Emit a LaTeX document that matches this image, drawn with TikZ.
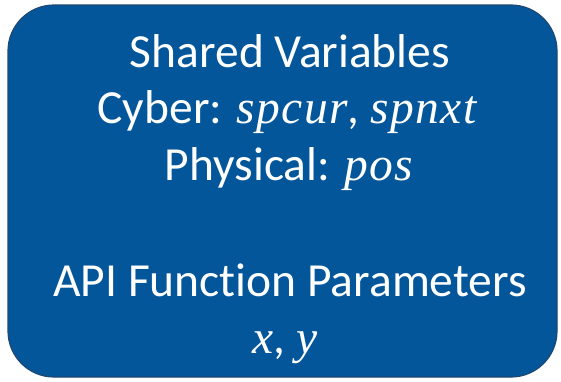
\documentclass[tikz,border=0pt]{standalone}
\usepackage{fontspec}
\setmainfont{Carlito}[Ligatures=NoCommon]
\newfontfamily\varfont{Liberation Serif}[LetterSpace=3]
\definecolor{boxfill}{HTML}{04569A}
\definecolor{boxline}{HTML}{1E4874}
\newcommand{\mv}[1]{{\varfont\itshape #1}}
\begin{document}
\begin{tikzpicture}[x=1pt,y=-1pt,
  panel/.style={fill=boxfill,draw=boxline,line width=1.2pt,rounded corners=46pt},
  label/.style={text=white,font=\fontsize{47.5}{57}\selectfont,align=center,inner sep=0pt}]
  \useasboundingbox (0,0) rectangle (561,381);
  \path[panel] (8,5) rectangle (557,377);
  \node[label,anchor=base] (t1) at (290,67) {Shared Variables};
  \node[label,anchor=base] (t2) at (287,123) {Cyber: \mv{spcur}, \mv{spnxt}};
  \node[label,anchor=base] (t3) at (289,180) {Physical: \mv{pos}};
  \node[label,anchor=base] (t4) at (290,296) {API Function Parameters};
  \node[label,anchor=base] (t5) at (285,353) {\mv{x}, \mv{y}};
\end{tikzpicture}
\end{document}
